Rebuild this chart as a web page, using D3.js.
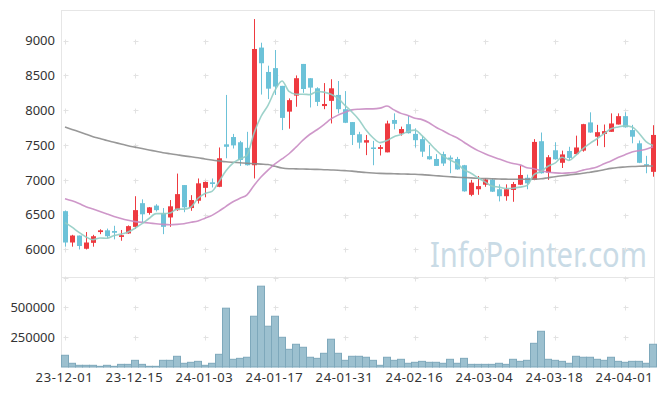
<!DOCTYPE html>
<html lang="ko">
<head>
<meta charset="UTF-8">
<title>Candlestick chart</title>
<script src="https://d3js.org/d3.v7.min.js"></script>
<style>
  body { margin: 0; background: #fff; }
  svg { display: block; font-family: 'Noto Sans', sans-serif; }
  .tick-label { font-size: 13px; fill: #333; }
</style>
</head>
<body>
<svg id="chart" width="665" height="396"></svg>
<script>
// trading days, YY-MM-DD
const dates = [
  "23-12-01","23-12-04","23-12-05","23-12-06","23-12-07","23-12-08","23-12-11","23-12-12","23-12-13","23-12-14",
  "23-12-15","23-12-18","23-12-19","23-12-20","23-12-21","23-12-22","23-12-26","23-12-27","23-12-28","24-01-02",
  "24-01-03","24-01-04","24-01-05","24-01-08","24-01-09","24-01-10","24-01-11","24-01-12","24-01-15","24-01-16",
  "24-01-17","24-01-18","24-01-19","24-01-22","24-01-23","24-01-24","24-01-25","24-01-26","24-01-29","24-01-30",
  "24-01-31","24-02-01","24-02-02","24-02-05","24-02-06","24-02-07","24-02-08","24-02-13","24-02-14","24-02-15",
  "24-02-16","24-02-19","24-02-20","24-02-21","24-02-22","24-02-23","24-02-26","24-02-27","24-02-28","24-02-29",
  "24-03-04","24-03-05","24-03-06","24-03-07","24-03-08","24-03-11","24-03-12","24-03-13","24-03-14","24-03-15",
  "24-03-18","24-03-19","24-03-20","24-03-21","24-03-22","24-03-25","24-03-26","24-03-27","24-03-28","24-03-29",
  "24-04-01","24-04-02","24-04-03","24-04-04","24-04-05"
];

const open = [
  6550,6100,6200,6010,6095,6250,6275,6265,6180,6230,
  6325,6665,6525,6630,6520,6460,6565,6925,6595,6700,
  6885,6965,6900,7510,7615,7540,7460,7210,8900,8550,
  8605,8350,7980,8210,8665,8460,8315,8060,8135,8220,
  8015,7830,7655,7535,7465,7445,7395,7860,7665,7800,
  7660,7585,7340,7300,7370,7320,7300,7210,6785,6865,
  6930,7005,6865,6765,6855,6930,7030,7000,7555,7105,
  7425,7245,7415,7370,7420,7825,7620,7660,7690,7795,
  7915,7715,7525,7225,7115
];
const high = [
  6560,6210,6200,6250,6210,6290,6300,6340,6280,6345,
  6765,6720,6610,6650,6595,6710,7090,6925,6780,7020,
  6975,7020,7465,8220,7660,7560,7690,9310,8970,8640,
  8865,8350,8170,8500,8665,8460,8330,8390,8445,8420,
  8275,7830,7690,7645,7560,7500,7850,7955,7765,7920,
  7740,7630,7500,7370,7405,7350,7330,7215,7000,7055,
  7025,7020,6935,6935,6970,7210,7075,7585,7680,7355,
  7540,7420,7475,7635,7805,7970,7790,7795,7955,7955,
  7970,7790,7565,7345,7785
];
const low = [
  6040,6040,6000,6000,6040,6220,6160,6145,6125,6225,
  6295,6390,6500,6545,6220,6325,6555,6535,6555,6660,
  6750,6890,6895,7310,7450,7200,7205,7020,8225,8160,
  8220,7715,7735,8050,8250,8040,8060,8015,7810,7955,
  7815,7500,7450,7355,7210,7350,7395,7725,7635,7665,
  7465,7330,7290,7200,7200,7095,7145,6830,6765,6785,
  6900,6825,6690,6700,6685,6925,6865,6995,7090,7000,
  7290,7170,7275,7360,7405,7675,7490,7470,7690,7795,
  7750,7525,7240,7095,7045
];
const close = [
  6100,6200,6050,6100,6190,6275,6190,6240,6205,6335,
  6565,6505,6605,6565,6325,6620,6795,6605,6710,6950,
  6970,6940,7310,7475,7495,7285,7210,8880,8675,8310,
  8340,7890,8145,8460,8305,8325,8120,8090,8315,8015,
  7820,7645,7535,7570,7445,7470,7810,7805,7730,7670,
  7570,7405,7295,7200,7235,7295,7150,6835,6960,6910,
  7005,6830,6765,6865,6940,7070,6950,7545,7095,7325,
  7295,7365,7315,7465,7800,7680,7685,7700,7810,7915,
  7755,7620,7245,7210,7645
];
const volume = [
  97500,30800,14000,14000,14000,5600,14000,5600,22000,22000,
  55500,22000,5600,5600,55500,55500,89000,30800,39000,47000,
  14000,30800,105500,489000,64000,72000,81000,422000,672000,339000,
  422000,247000,147000,189000,164000,81000,72000,114000,231000,114000,
  55500,89000,89000,81000,55500,14000,81000,55500,64000,30800,
  39000,47000,39000,39000,30800,64000,30800,72000,22000,22000,
  22000,22000,30800,22000,64000,47000,55500,197000,297000,64000,
  55500,47000,30800,89000,81000,81000,64000,55500,81000,47000,
  39000,47000,47000,30800,189000
];

// moving averages as drawn
const ma5 = [
  6385,6320,6245,6180,6140,6165,6160,6200,6220,6250,
  6305,6370,6445,6515,6515,6525,6580,6580,6610,6735,
  6805,6835,6975,7130,7240,7300,7355,7670,7910,8070,
  8285,8420,8270,8230,8230,8225,8270,8260,8230,8175,
  8070,7975,7865,7715,7605,7535,7565,7620,7650,7695,
  7715,7635,7535,7430,7340,7285,7235,7145,7095,7030,
  6970,6910,6895,6875,6880,6895,6920,7075,7120,7195,
  7240,7325,7280,7355,7450,7525,7590,7665,7735,7760,
  7775,7760,7670,7550,7495
];
const ma20 = [
  6730,6700,6660,6615,6580,6545,6510,6475,6445,6420,
  6400,6390,6380,6370,6360,6355,6360,6370,6390,6410,
  6450,6490,6550,6620,6685,6735,6785,6920,7040,7140,
  7230,7300,7375,7470,7570,7655,7720,7795,7875,7930,
  7970,8005,8015,8020,8020,8030,8060,8005,7955,7925,
  7885,7865,7820,7755,7705,7650,7605,7540,7475,7420,
  7375,7335,7300,7265,7235,7215,7175,7160,7130,7110,
  7100,7095,7100,7110,7140,7160,7185,7230,7270,7320,
  7360,7400,7420,7440,7475
];
const maLong = [
  7760,7725,7690,7655,7620,7595,7565,7540,7515,7490,
  7470,7450,7430,7410,7390,7375,7360,7345,7332,7318,
  7300,7285,7272,7260,7252,7245,7238,7232,7226,7220,
  7195,7170,7160,7158,7155,7153,7150,7146,7142,7138,
  7132,7125,7115,7105,7098,7093,7090,7088,7085,7082,
  7080,7075,7068,7060,7052,7045,7038,7033,7028,7022,
  7018,7015,7012,7010,7008,7008,7008,7010,7015,7030,
  7045,7058,7070,7082,7095,7110,7125,7145,7165,7178,
  7185,7192,7196,7198,7200
];

const xTickDates = ["23-12-01","23-12-15","24-01-03","24-01-17","24-01-31","24-02-16","24-03-04","24-03-18","24-04-01"];
const priceTicks = [6000,6500,7000,7500,8000,8500,9000];
const volumeTicks = [250000,500000];

const svg = d3.select("#chart");
const plotLeft = 61, plotRight = 656, plotTop = 10, plotMid = 278, plotBottom = 367;

const x = d3.scaleBand().domain(dates).range([plotLeft, plotRight]).padding(0);
const cx = d => x(d) + x.bandwidth() / 2;
const y = d3.scaleLinear().domain([5590, 9440]).range([plotMid, plotTop]);
const yv = d3.scaleLinear().domain([0, 740000]).range([plotBottom, plotMid]);

// watermark, squeezed horizontally to the reference width
const mark = svg.append("text")
  .style("font-size", "34px").style("fill", "#c9dbe6")
  .text("InfoPointer.com");
const markW = mark.node().getComputedTextLength();
mark.attr("transform", `translate(430,267) scale(${217 / markW},1)`);

// frame
const frame = svg.append("g").attr("stroke", "#e6e6e6").attr("fill", "none");
frame.append("line").attr("x1", plotLeft).attr("x2", plotRight - 1).attr("y1", plotTop + 0.5).attr("y2", plotTop + 0.5);
frame.append("line").attr("x1", plotLeft + 0.5).attr("x2", plotLeft + 0.5).attr("y1", plotTop).attr("y2", plotBottom);
frame.append("line").attr("x1", plotRight - 1.5).attr("x2", plotRight - 1.5).attr("y1", plotTop).attr("y2", plotBottom);
frame.append("line").attr("x1", plotLeft).attr("x2", plotRight - 1).attr("y1", plotMid - 0.5).attr("y2", plotMid - 0.5);

// grid crosses
const grid = svg.append("g").attr("stroke", "#e2e2e2");
const crossRows = priceTicks.map(v => y(v)).concat(volumeTicks.map(v => yv(v)), [plotMid - 0.5]);
xTickDates.forEach(d => {
  crossRows.forEach(yy => {
    const px = Math.round(cx(d)) + 0.5, py = Math.round(yy) + 0.5;
    grid.append("line").attr("x1", px - 2).attr("x2", px + 3).attr("y1", py).attr("y2", py);
    grid.append("line").attr("x1", px).attr("x2", px).attr("y1", py - 2).attr("y2", py + 3);
  });
});

// axes
const yAxis = svg.append("g").attr("transform", `translate(${plotLeft - 6},0)`)
  .call(d3.axisLeft(y).tickValues(priceTicks).tickSize(0).tickPadding(0).tickFormat(d3.format("d")));
const vAxis = svg.append("g").attr("transform", `translate(${plotLeft - 6},0)`)
  .call(d3.axisLeft(yv).tickValues(volumeTicks).tickSize(0).tickPadding(0).tickFormat(d3.format("d")));
const xAxis = svg.append("g").attr("transform", `translate(0,${plotBottom + 3})`)
  .call(d3.axisBottom(x).tickValues(xTickDates).tickSize(0).tickPadding(0));
[yAxis, vAxis, xAxis].forEach(g => {
  g.select(".domain").remove();
  g.selectAll("text").attr("class", "tick-label").style("font-family", "'Noto Sans', sans-serif");
});
xAxis.selectAll("text").attr("dy", "0.95em").attr("letter-spacing", "0.6px");

// volume bars
svg.append("g").selectAll("rect").data(volume).join("rect")
  .attr("x", (v, i) => x(dates[i]) + 0.5)
  .attr("y", v => yv(v))
  .attr("width", x.bandwidth())
  .attr("height", v => plotBottom - yv(v))
  .attr("fill", "#9cc0cf")
  .attr("stroke", "#7ea8bb")
  .attr("stroke-width", 1);

// candles
const candles = svg.append("g").selectAll("g").data(dates).join("g");
const colorOf = i => close[i] >= open[i] ? "#ee3a40" : "#6cc2d8";
candles.append("line")
  .attr("x1", (d) => Math.round(cx(d)) + 0.5).attr("x2", (d) => Math.round(cx(d)) + 0.5)
  .attr("y1", (d, i) => y(high[i])).attr("y2", (d, i) => y(low[i]))
  .attr("stroke", (d, i) => colorOf(i)).attr("stroke-width", 1);
candles.append("rect")
  .attr("x", d => Math.round(cx(d)) - 2)
  .attr("width", 5)
  .attr("y", (d, i) => y(Math.max(open[i], close[i])))
  .attr("height", (d, i) => Math.max(1.5, Math.abs(y(open[i]) - y(close[i]))))
  .attr("fill", (d, i) => colorOf(i));

// moving average lines
const maLine = arr => d3.line().curve(d3.curveMonotoneX)
  .x((v, i) => cx(dates[i]) + 0.5).y(v => y(v))(arr);
[[maLong, "#8d8d8d"], [ma20, "#c98cc3"], [ma5, "#92cdc4"]].forEach(([arr, c]) => {
  svg.append("path").attr("d", maLine(arr))
    .attr("fill", "none").attr("stroke", c).attr("stroke-width", 1.6).attr("stroke-opacity", 0.9);
});
</script>
</body>
</html>
